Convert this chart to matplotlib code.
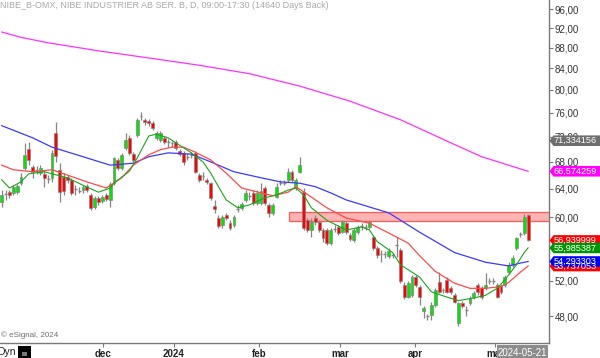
import matplotlib
matplotlib.use("Agg")
import matplotlib.pyplot as plt
from matplotlib.patches import Rectangle, Polygon
from matplotlib.ticker import NullLocator, NullFormatter
from matplotlib.transforms import IdentityTransform

plt.rcParams['font.family'] = ['Liberation Sans', 'DejaVu Sans']

# ---------------- data ----------------
opens = [62.12, 63.2, 63.52, 63.38, 63.52, 64.83, 67.06, 70.01, 67.22, 66.8,
         66.31, 66.16, 65.4, 65.56, 72.6, 66.76, 65.71, 65.71, 65.27, 63.9,
         63.7, 63.81, 64.40, 63.10, 61.42, 62.68, 62.25, 63.10, 62.39, 64.83,
         68.29, 67.06, 70.17, 71.78, 69.22, 72.27, 75.35, 74.76, 74.59, 74.25,
         71.78, 71.45, 71.78, 71.05, 70.9, 71.13, 69.7, 69.38, 68.8, 69.1,
         69.38, 66.01, 65.8, 65.27, 64.83, 61.55, 59.9, 58.96, 60.31, 59.23,
         58.96, 61.2, 61.28, 62.39, 63.0, 63.38, 61.97, 61.97, 64.1, 61.69,
         60.59, 62.82, 64.9, 64.9, 65.27, 66.46, 64.1, 66.46, 63.52, 59.63,
         58.30, 59.9, 59.36, 58.30, 58.30, 56.62, 58.4, 58.7, 58.04, 59.23,
         57.65, 57.0, 58.04, 58.8, 58.75, 58.7, 57.39, 55.97, 55.2, 55.2,
         54.97, 55.05, 56.3, 55.72, 51.49, 50.1, 50.34, 52.42, 51.26, 48.55,
         47.95, 48.11, 49.21, 51.84, 50.85, 52.07, 51.14, 50.34, 47.25, 49.43,
         48.7, 49.43, 50.1, 51.49, 51.14, 51.14, 51.95, 51.95, 51.49, 51.37,
         51.49, 53.02, 53.87, 55.97, 57.8, 57.91, 60.31]
highs = [63.81, 63.81, 63.81, 64.54, 64.69, 66.31, 70.97, 71.13, 67.52, 67.37,
         67.52, 66.76, 66.01, 69.85, 74.42, 67.83, 66.31, 66.01, 65.56, 64.54,
         64.25, 64.54, 64.69, 63.38, 62.96, 62.96, 63.10, 63.38, 64.98, 68.76,
         68.6, 69.38, 72.6, 72.27, 69.54, 75.1, 76.13, 75.1, 74.93, 74.59,
         72.93, 72.93, 72.1, 71.61, 71.29, 71.45, 70.01, 69.7, 69.38, 69.54,
         69.7, 66.31, 66.46, 65.56, 64.98, 62.39, 60.31, 60.31, 60.59, 59.63,
         60.31, 61.69, 62.1, 63.81, 63.52, 63.81, 63.81, 64.83, 64.4, 61.97,
         61.97, 64.83, 65.27, 65.27, 67.06, 66.76, 65.56, 68.76, 64.1, 59.9,
         59.9, 60.31, 59.63, 58.57, 58.57, 58.57, 58.96, 58.96, 59.63, 59.5,
         57.91, 58.57, 58.96, 59.23, 59.1, 59.63, 57.65, 56.23, 55.72, 55.6,
         55.97, 55.35, 57.39, 55.97, 51.84, 51.95, 52.66, 52.66, 51.49, 49.1,
         48.22, 49.55, 51.14, 53.02, 51.14, 52.42, 51.37, 50.57, 49.55, 49.66,
         49.1, 50.22, 50.8, 51.72, 51.37, 52.9, 52.3, 52.3, 51.72, 51.6,
         52.66, 54.24, 55.10, 57.39, 58.04, 60.45, 60.45]
lows = [61.42, 62.39, 62.68, 63.10, 63.24, 64.54, 66.76, 67.52, 65.56, 66.16,
        66.01, 64.25, 64.83, 64.98, 67.98, 62.12, 63.10, 64.83, 63.10, 63.10,
        63.38, 63.38, 63.52, 61.0, 61.14, 61.69, 61.97, 62.25, 61.42, 64.54,
        66.76, 66.76, 69.85, 69.07, 67.98, 71.94, 74.76, 73.92, 73.75, 73.09,
        71.45, 71.13, 70.81, 70.33, 70.33, 69.85, 68.91, 67.52, 68.29, 68.6,
        66.31, 64.98, 65.27, 64.69, 62.39, 60.59, 58.57, 58.57, 59.63, 58.30,
        58.7, 60.72, 61.0, 62.1, 62.39, 61.69, 61.69, 61.69, 61.69, 60.04,
        60.31, 62.68, 64.54, 64.54, 64.98, 64.98, 63.81, 66.31, 58.30, 58.04,
        57.39, 58.96, 58.04, 56.75, 56.36, 56.36, 58.04, 57.65, 57.91, 57.78,
        56.87, 56.75, 57.78, 58.30, 58.30, 58.43, 55.72, 54.72, 54.24, 54.72,
        54.72, 54.72, 54.85, 51.72, 49.88, 49.99, 50.1, 51.26, 49.21, 47.79,
        47.57, 47.57, 48.99, 50.57, 50.57, 50.57, 50.45, 49.43, 46.93, 48.88,
        48.0, 49.21, 49.88, 50.34, 49.88, 50.91, 51.6, 51.6, 49.99, 50.45,
        51.26, 52.78, 53.63, 55.72, 57.39, 57.65, 56.87]
closes = [63.10, 63.2, 63.10, 64.25, 64.40, 65.71, 69.07, 68.29, 66.46, 66.8,
          67.06, 65.56, 65.4, 69.38, 68.91, 63.52, 63.67, 65.27, 63.38, 63.9,
          63.7, 64.25, 63.81, 61.28, 62.68, 62.12, 62.82, 62.53, 64.69, 68.6,
          67.06, 69.07, 71.45, 69.38, 68.29, 74.76, 75.35, 74.42, 74.25, 73.42,
          72.6, 72.6, 71.13, 71.05, 70.9, 70.17, 69.22, 67.98, 68.8, 69.1,
          66.46, 65.27, 65.8, 64.98, 62.68, 61.14, 58.83, 60.04, 59.9, 58.57,
          60.04, 61.2, 61.83, 63.38, 63.0, 61.97, 63.38, 63.67, 61.97, 60.59,
          61.69, 64.25, 64.9, 64.9, 66.46, 65.27, 65.27, 67.52, 58.57, 58.30,
          59.36, 59.36, 58.30, 57.26, 56.62, 58.30, 58.4, 57.91, 59.36, 58.04,
          57.13, 58.30, 58.7, 58.8, 58.75, 59.36, 55.97, 55.10, 55.2, 55.2,
          55.6, 55.05, 56.3, 51.95, 50.1, 51.72, 52.42, 51.49, 50.1, 48.88,
          47.95, 49.21, 50.91, 50.68, 50.85, 50.68, 50.68, 49.55, 49.43, 49.1,
          48.7, 50.0, 50.57, 50.68, 50.1, 51.49, 51.95, 51.95, 50.1, 50.68,
          52.42, 53.87, 54.72, 57.26, 57.8, 60.04, 56.94]

green_idx = [0, 2, 5, 7, 11, 13, 17, 21, 25, 28, 29, 33, 35, 38, 40, 43, 47, 49, 52, 54,
             56, 58, 61, 64, 68, 71, 74, 76, 78, 80, 84, 89, 93, 95, 97, 101, 103, 106,
             108, 111, 115, 118, 122, 125, 128, 130, 133, 135, 136]
green_val = [65.3, 64.1, 65.0, 66.2, 66.5, 66.2, 65.6, 64.5, 63.5, 64.1, 64.8, 66.6, 68.6,
             72.1, 72.4, 71.8, 70.2, 69.4, 68.0, 66.3, 64.3, 62.4, 61.3, 61.7, 62.7, 63.1,
             63.8, 64.1, 63.1, 61.3, 59.6, 58.3, 58.7, 58.3, 56.8, 55.4, 53.9, 53.0, 52.4,
             50.7, 50.1, 49.7, 50.0, 50.3, 51.1, 52.1, 53.9, 55.4, 55.99]

red_idx = [0, 3, 8, 13, 17, 22, 27, 31, 34, 38, 41, 44, 47, 50, 54, 58, 62, 67, 70, 74,
           76, 80, 84, 89, 95, 100, 105, 108, 112, 117, 121, 125, 129, 131, 134, 136]
red_val = [67.5, 66.8, 66.5, 66.8, 66.0, 65.0, 64.1, 65.6, 67.5, 69.1, 69.9, 70.3, 70.3,
           69.5, 68.3, 66.3, 64.1, 63.4, 63.0, 63.5, 64.3, 62.8, 61.3, 59.9, 59.2, 57.9,
           56.6, 55.0, 53.1, 51.7, 51.1, 51.1, 51.3, 51.8, 53.0, 53.74]

blue_idx = [0, 8, 13, 21, 28, 34, 38, 43, 49, 54, 60, 67, 72, 77, 81, 85, 89, 100, 108,
            117, 125, 129, 131, 134, 136]
blue_val = [73.8, 71.8, 70.3, 68.8, 67.5, 67.8, 68.8, 69.4, 69.2, 68.0, 66.5, 65.6, 65.0,
            64.8, 64.3, 63.4, 62.4, 60.6, 58.0, 55.4, 54.2, 53.9, 53.75, 54.1, 54.29]

mag_idx = [0, 5, 12, 25, 38, 51, 64, 77, 90, 103, 116, 124, 136]
mag_val = [91.2, 90.1, 89.0, 87.4, 86.0, 84.6, 83.0, 80.7, 78.0, 74.8, 71.0, 68.8, 66.57]

band_start = 74.3
band_low, band_high = 59.55, 60.75

month_pos = [26.1, 44.5, 66.5, 87.4, 106.8, 127.5]
month_labels = ['dec', '2024', 'feb', 'mar', 'apr', 'maj']

y_ticks = [48, 52, 56, 60, 64, 68, 72, 76, 80, 84, 88, 92, 96]

tag_values = [71.334156, 66.574259, 56.939999, 55.985387, 53.737053, 54.293303]
tag_colors = ['#6e6e6e', '#ff00ff', '#ff0000', '#009400', '#ff0000', '#0000f0']

title = "NIBE_B-OMX, NIBE INDUSTRIER AB SER. B, D, 09:00-17:30 (14640 Days Back)"
date_label = "2024-05-21"

# ---------------- figure ----------------
W, H = 600, 358
fig = plt.figure(figsize=(W / 100, H / 100), dpi=100)
fig.patch.set_facecolor('white')
ax = fig.add_axes([0, 15 / H, 549 / W, 343 / H])
ax.set_facecolor('white')
ax.set_yscale('log')
ax.set_ylim(45.16, 98.04)
ax.set_xlim(-0.44, 141.4)

for s in ['top', 'left']:
    ax.spines[s].set_visible(False)
for s in ['right', 'bottom']:
    ax.spines[s].set_color('#7a7a7a')
    ax.spines[s].set_linewidth(1.0)

# band
ax.add_patch(Rectangle((band_start, band_low), 200, band_high - band_low,
                       facecolor='#ffb4b4', edgecolor='#ff5a5a', lw=0.9, zorder=2))

# candles
GREEN, RED, GRAY = '#00e600', '#ff0000', '#858585'
bw = 0.74
for i, (o, h, l, c) in enumerate(zip(opens, highs, lows, closes)):
    ax.vlines(i, l, h, color=GRAY, lw=0.9, zorder=3)
    if c != o:
        face = GREEN if c > o else RED
        ax.add_patch(Rectangle((i - bw / 2, min(o, c)), bw, abs(c - o),
                               facecolor=face, edgecolor=GRAY, lw=0.5, zorder=4))
    else:
        ax.hlines(o, i - bw / 2, i + bw / 2, color=GRAY, lw=1.0, zorder=4)

# moving averages
ax.plot(mag_idx, mag_val, color='#ff30ff', lw=0.9, zorder=5)
ax.plot(blue_idx, blue_val, color='#3a3aff', lw=0.9, zorder=5)
ax.plot(red_idx, red_val, color='#ff4a4a', lw=0.9, zorder=5)
ax.plot(green_idx, green_val, color='#1aa51a', lw=0.8, zorder=6)

# y axis
ax.yaxis.tick_right()
ax.set_yticks(y_ticks, labels=[f"{v:.2f}".replace('.', ',') for v in y_ticks])
ax.yaxis.set_minor_locator(NullLocator())
ax.yaxis.set_minor_formatter(NullFormatter())
ax.tick_params(axis='y', direction='out', length=3, width=0.8, color='#7a7a7a',
               pad=1, labelsize=7, labelcolor='#333333')

# x axis
ax.set_xticks(month_pos, labels=month_labels)
ax.tick_params(axis='x', direction='out', length=3, width=0.8, color='#7a7a7a',
               pad=1.2, labelsize=7, labelcolor='#222222')
for t in ax.get_xticklabels():
    t.set_fontweight('bold')

# price tags on the right
fig.canvas.draw()
ident = IdentityTransform()
x_ax = ax.transAxes.transform((1, 0))[0]
for v, col in zip(tag_values, tag_colors):
    yd = ax.transData.transform((0, v))[1]
    hh = 5.3
    pts = [(x_ax + 0.5, yd), (x_ax + 4.5, yd + hh), (W, yd + hh), (W, yd - hh), (x_ax + 4.5, yd - hh)]
    fig.add_artist(Polygon(pts, closed=True, transform=ident, facecolor=col,
                           edgecolor='none', zorder=10))
    fig.text(x_ax + 4.5, yd, f"{v:.6f}".replace('.', ','), transform=ident,
             fontsize=6.6, color='white', va='center', ha='left', zorder=11)

# texts
fig.text(0.0, 1 - 6 / H, title, fontsize=6.5, color='#a8a8a8', va='center', ha='left')
fig.text(1 / W, 1 - 335 / H, '\u00a9 eSignal, 2024', fontsize=5.8, color='#707070',
         va='center', ha='left')
fig.text(-3 / W, 1 - 352 / H, 'Dyn', fontsize=7.5, color='#202020', va='center', ha='left')
fig.add_artist(Rectangle((18 / W, 0), 13 / W, 12 / H, transform=fig.transFigure,
                         facecolor='black', edgecolor='none', zorder=10))
fig.add_artist(Rectangle((22 / W, 2 / H), 5 / W, 4 / H, transform=fig.transFigure,
                         facecolor='#777777', edgecolor='none', zorder=11))
fig.add_artist(Rectangle((497 / W, 0), 51 / W, 13 / H, transform=fig.transFigure,
                         facecolor='#8c8c8c', edgecolor='none', zorder=10))
fig.text(522.5 / W, 5 / H, date_label, fontsize=7, color='white', va='center',
         ha='center', zorder=11)

fig.savefig('out.png', dpi=100, facecolor='white')
